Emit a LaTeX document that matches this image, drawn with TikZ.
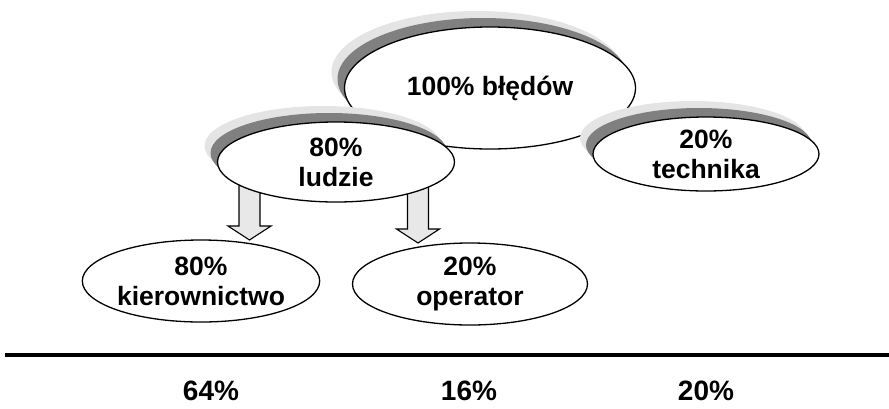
\documentclass[tikz,border=0pt]{standalone}
\usepackage{fontspec}
\setmainfont{Liberation Sans}
\usetikzlibrary{shapes.geometric,shadows}
\definecolor{shlight}{RGB}{228,228,228}
\definecolor{shdark}{RGB}{128,128,128}
\definecolor{arrfill}{RGB}{232,232,232}
\tikzset{
  oval/.style={ellipse, draw=black, line width=1.3pt, fill=white, inner sep=0pt,
    align=center, font=\fontsize{26.5}{30}\selectfont\bfseries},
  shadowed/.style={
    general shadow={fill=shlight, draw=none, shadow xshift=-13pt, shadow yshift=16pt},
    general shadow={fill=shdark, draw=none, shadow xshift=-7pt, shadow yshift=9pt}},
  blockarrow/.style={draw=black, line width=1.1pt, fill=arrfill, line join=miter},
  total/.style={font=\fontsize{28}{32}\selectfont\bfseries, anchor=base},
  rule/.style={line width=4pt, draw=black}
}
\begin{document}
\begin{tikzpicture}[x=1pt, y=-1pt]
\useasboundingbox (0,0) rectangle (889,408);
% top ellipse
\node[oval, shadowed, minimum width=291pt, minimum height=122pt] (all) at (490,88) {100\% błędów};
% block arrows (drawn before the ellipses that cover their ends)
\coordinate (t1) at (249.5,240);
\coordinate (t2) at (418,243);
\draw[blockarrow] (t1) -- ++(21.5,-14) -- ++(-11,0) -- ++(0,-41) -- ++(-21,0) -- ++(0,41) -- ++(-11,0) -- cycle;
\draw[blockarrow] (t2) -- ++(21.5,-14) -- ++(-11,0) -- ++(0,-44) -- ++(-21,0) -- ++(0,44) -- ++(-11,0) -- cycle;
% second level
\node[oval, shadowed, minimum width=237pt, minimum height=80pt] (people) at (336,162) {80\%\\ludzie};
\node[oval, shadowed, minimum width=226pt, minimum height=74pt] (tech) at (706,154) {20\%\\technika};
% third level
\node[oval, minimum width=236pt, minimum height=82pt] (mgmt) at (201,281) {80\%\\kierownictwo};
\node[oval, minimum width=235pt, minimum height=82pt] (oper) at (470,284) {20\%\\operator};
% rule and totals
\coordinate (r1) at (5,355);
\coordinate (r2) at (889,355);
\draw[rule] (r1) -- (r2);
\node[total] (p64) at (211,400) {64\%};
\node[total] (p16) at (469,400) {16\%};
\node[total] (p20) at (706,400) {20\%};
\end{tikzpicture}
\end{document}
